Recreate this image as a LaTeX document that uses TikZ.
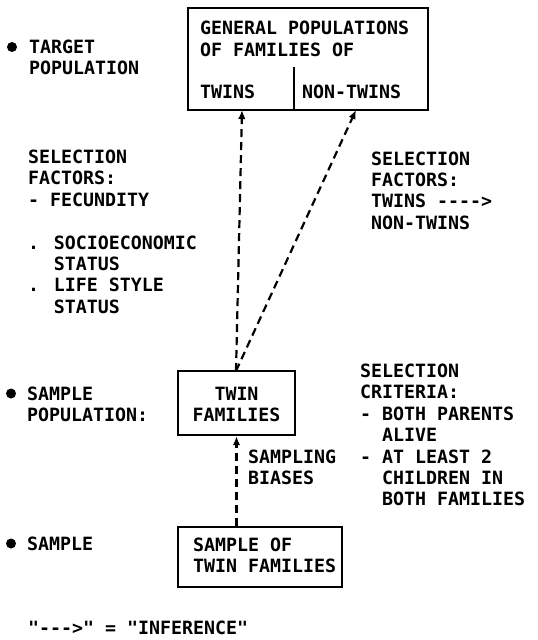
\documentclass[tikz,border=0pt]{standalone}
\usepackage{fontspec}
\newfontfamily\plot{DejaVu Sans Mono}
\usetikzlibrary{arrows.meta}
\tikzset{
  txt/.style={inner sep=0pt, anchor=base west, align=left,
    font=\plot\bfseries\fontsize{18.27}{21.4}\selectfont},
  boxnode/.style={draw, line width=2.4pt, inner sep=0pt, rectangle},
  infer/.style={line width=2.2pt, dash pattern=on 8pt off 5pt,
    -{Latex[length=9pt,width=7.5pt]}},
  bullet/.style={circle, fill, inner sep=0pt, minimum size=10pt}
}
\begin{document}
\begin{tikzpicture}[x=1pt,y=-1pt]
\useasboundingbox (0,0) rectangle (538,640);

% boxes
\node[boxnode, minimum width=240pt, minimum height=102pt] (gen) at (308,59) {};
\coordinate (divtop) at (294,67);
\coordinate (divbot) at (294,110);
\draw[line width=2.2pt] (divtop) -- (divbot);
\node[boxnode, minimum width=117pt, minimum height=64pt] (twin) at (236.5,403) {};
\node[boxnode, minimum width=164pt, minimum height=60pt] (samp) at (260,557) {};

% box texts (multi-line nodes: base = last line's baseline)
\node[txt] (gentxt) at (200,56) {GENERAL POPULATIONS\\OF FAMILIES OF};
\node[txt] (tw) at (200,98) {TWINS};
\node[txt] (ntw) at (302,98) {NON-TWINS};
\node[txt, anchor=base, align=center] (twintxt) at (236.5,421.4) {TWIN\\FAMILIES};
\node[txt] (samptxt) at (193,572.5) {SAMPLE OF\\TWIN FAMILIES};

% left labels
\node[bullet] (b1) at (12,47) {};
\node[txt] (target) at (29,74.9) {TARGET\\POPULATION};
\node[txt] (selL) at (28,313.3) {SELECTION\\FACTORS:\\- FECUNDITY\\[21.4pt]. SOCIOECONOMIC\\\phantom{. }STATUS\\. LIFE STYLE\\\phantom{. }STATUS};
\node[bullet] (b2) at (11,393.5) {};
\node[txt] (spop) at (27,421.4) {SAMPLE\\POPULATION:};
\node[bullet] (b3) at (11,543.5) {};
\node[txt] (smp) at (27,550) {SAMPLE};

% right labels
\node[txt] (selR) at (371,229.2) {SELECTION\\FACTORS:\\TWINS ---->\\NON-TWINS};
\node[txt] (crit) at (360,505.9) {SELECTION\\CRITERIA:\\- BOTH PARENTS\\\phantom{- }ALIVE\\- AT LEAST 2\\\phantom{- }CHILDREN IN\\\phantom{- }BOTH FAMILIES};
\node[txt] (bias) at (248,484.9) {SAMPLING\\BIASES};

% legend
\node[txt] (legend) at (28,634.5) {"--->" = "INFERENCE"};

% connectors
\coordinate (twinsIn) at (242,110);
\coordinate (nonIn) at (356,110);
\coordinate (twinTop) at (236,371);
\draw[infer] (twinTop) -- (twinsIn);
\draw[infer] (twinTop) -- (nonIn);
\draw[infer] (samp.north -| twin.south) -- (twin.south);
\end{tikzpicture}
\end{document}
